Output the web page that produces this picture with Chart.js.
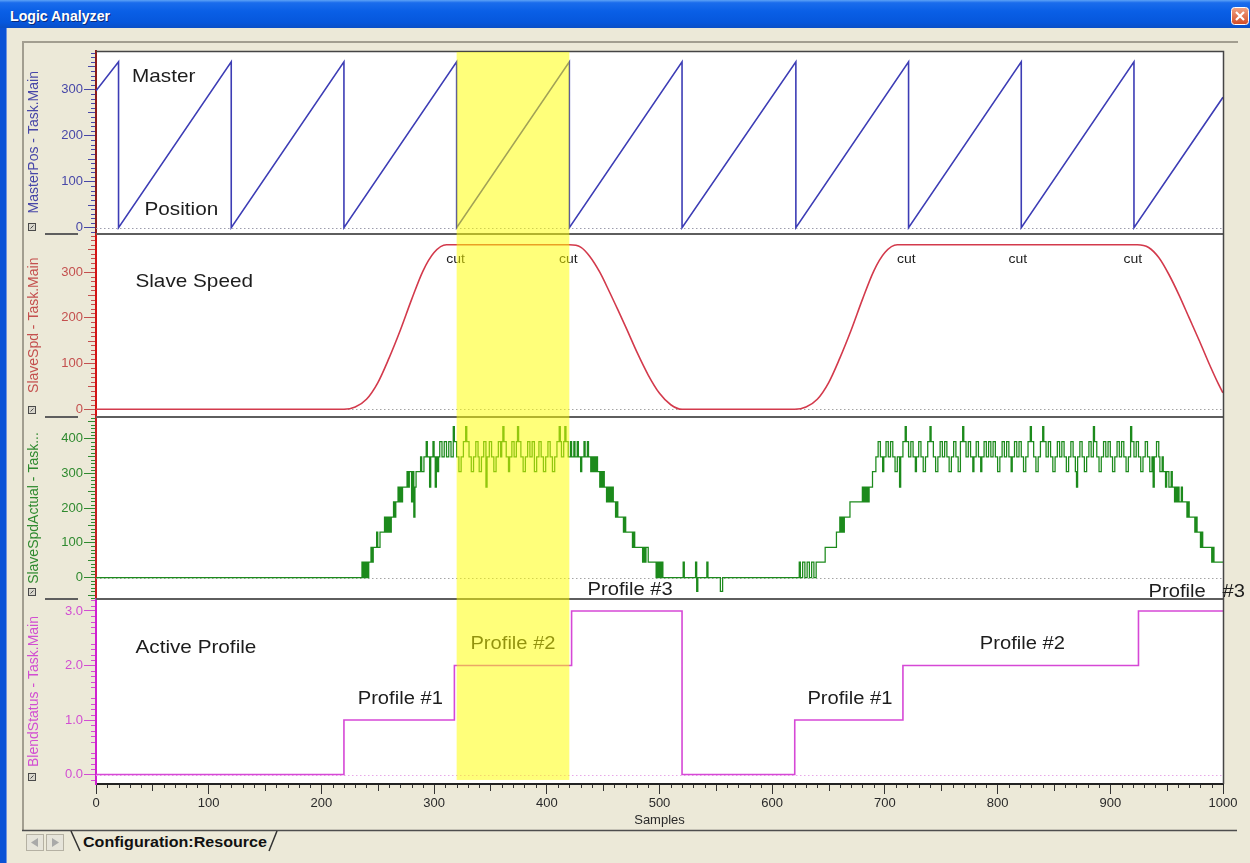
<!DOCTYPE html>
<html>
<head>
<meta charset="utf-8">
<title>Logic Analyzer</title>
<script src="https://cdn.jsdelivr.net/npm/chart.js@4.4.1/dist/chart.umd.min.js"></script>
<style>
  html, body { margin: 0; padding: 0; }
  body { width: 1250px; height: 863px; position: relative; overflow: hidden; background: #ece9d8;
         font-family: "Liberation Sans", Arial, sans-serif; }
  #titlebar { position: absolute; left: 0; top: 0; width: 1250px; height: 28px;
    background: linear-gradient(to bottom, #5da2f6 0%, #1a6cec 10%, #0a5fe6 40%, #0657dc 80%, #0a4fc6 100%); }
  #leftedge { position: absolute; left: 0; top: 28px; width: 6px; height: 835px; background: #0a52d6;
    border-right: 1px solid #6f94e0; }
  #frame { position: absolute; left: 22px; top: 41px; width: 1216px; height: 790px; box-sizing: border-box;
    border-top: 2px solid #a29e90; border-left: 2px solid #a29e90; }
  #plot { position: absolute; left: 0; top: 0; width: 1250px; height: 863px; }
</style>
</head>
<body>
<div id="titlebar">
  <svg width="1250" height="28" style="position:absolute;left:0;top:0">
    <defs>
      <linearGradient id="closeGrad" x1="0" y1="0" x2="0" y2="1">
        <stop offset="0" stop-color="#f2a585"/>
        <stop offset="1" stop-color="#d24a24"/>
      </linearGradient>
    </defs>
    <text x="10" y="21" fill="#0a2a7a" font-family="Liberation Sans, Arial, sans-serif" font-weight="bold" font-size="14"
          textLength="100" lengthAdjust="spacingAndGlyphs" transform="translate(1,1)">Logic Analyzer</text>
    <text x="10" y="21" fill="#ffffff" font-family="Liberation Sans, Arial, sans-serif" font-weight="bold" font-size="14"
          textLength="100" lengthAdjust="spacingAndGlyphs">Logic Analyzer</text>
    <rect x="1231.5" y="7.5" width="17" height="17" rx="3" fill="url(#closeGrad)" stroke="#ffffff"/>
    <path d="M1236 12 L1244 20 M1244 12 L1236 20" stroke="#ffffff" stroke-width="2.2"/>
  </svg>
</div>
<div id="leftedge"></div>
<div id="frame"></div>
<svg width="1250" height="37" style="position:absolute;left:0;top:826px">
  <line x1="22" y1="4.5" x2="1237" y2="4.5" stroke="#4d4d4d" stroke-width="1.5"/>
  <rect x="26.5" y="8.5" width="17" height="16" fill="#e6e4da" stroke="#b5b1a3"/>
  <path d="M38 12 L31 16.5 L38 21 Z" fill="#a9a9a9"/>
  <rect x="46.5" y="8.5" width="17" height="16" fill="#e6e4da" stroke="#b5b1a3"/>
  <path d="M52 12 L59 16.5 L52 21 Z" fill="#a9a9a9"/>
  <path d="M71 5 L80 25 M269 25 L277 5" stroke="#333333" stroke-width="1.5" fill="none"/>
  <text x="83" y="21" fill="#111111" font-family="Liberation Sans, Arial, sans-serif" font-weight="bold" font-size="14"
        textLength="184" lengthAdjust="spacingAndGlyphs">Configuration:Resource</text>
</svg>
<canvas id="plot" width="1250" height="863"></canvas>

<script>
// ---- sample axis -------------------------------------------------------
const sampleTicks = [0, 100, 200, 300, 400, 500, 600, 700, 800, 900, 1000];

// ---- MasterPos - Task.Main (sawtooth corners: sample, position) ----------
const masterX = [0, 20, 20, 120, 120, 220, 220, 320, 320, 420, 420, 520, 520, 621, 621, 721, 721, 821, 821, 921, 921, 1000];
const masterY = [297, 360, 0, 360, 0, 360, 0, 360, 0, 360, 0, 360, 0, 360, 0, 360, 0, 360, 0, 360, 0, 283];
const masterTicks = [0, 100, 200, 300];

// ---- SlaveSpd - Task.Main ------------------------------------------------
const slaveX = [0, 220, 230, 240, 250, 260, 270, 280, 290, 300, 311,
                420, 430, 438, 447, 455, 463, 471, 480, 490, 500, 510, 520,
                620, 630, 640, 650, 660, 670, 680, 690, 700, 711,
                924, 934, 943, 952, 961, 970, 979, 988, 996, 1000];
const slaveY = [0, 0, 5, 22, 58, 112, 173, 240, 302, 343, 360,
                360, 355, 335, 300, 260, 218, 175, 125, 75, 35, 10, 0,
                0, 5, 22, 58, 112, 173, 240, 302, 343, 360,
                360, 354, 332, 295, 250, 200, 150, 98, 55, 36];
const slaveTicks = [0, 100, 200, 300];

// ---- SlaveSpdActual - Task.Main (value changes: sample, speed) -----------
const actualSteps = [
  [0,0],
  [236,44],[237,0],[238,44],[239,0],[240,44],[241,0],[242,44],
  [244,87],[245,44],[246,87],[249,131],[250,87],[252,131],
  [256,174],[257,131],[258,174],[259,131],[260,174],[261,131],[262,174],
  [264,218],[265,174],[266,218],[268,261],[269,218],[270,261],[271,218],[272,261],
  [276,305],[277,261],[278,305],[280,218],[281,305],[282,174],[283,261],[284,305],
  [288,348],[289,305],[291,348],[293,392],[294,348],[296,261],[297,348],[299,392],[300,348],[301,261],[302,348],[303,305],[304,348],[305,392],
  [307,348],[309,392],[311,348],[313,392],[315,348],[317,435],[318,392],[320,348],[322,305],[324,348],[326,392],[328,435],[329,392],
  [331,348],[333,305],[335,348],[337,392],[339,348],[340,305],[342,348],[344,392],[346,261],[347,348],[349,392],[351,348],[353,305],
  [355,348],[357,392],[359,348],[360,392],[361,435],[362,392],[364,348],[366,305],[367,348],[369,392],[371,348],[373,392],[374,435],
  [375,392],[377,348],[379,305],[381,348],[383,392],[385,348],[387,392],[389,305],[391,348],[393,392],[395,348],[397,305],[399,348],
  [401,392],[403,348],[405,305],[407,348],[409,392],[411,435],[412,392],[413,348],[415,392],[416,435],[417,392],[419,348],[421,392],
  [422,348],[424,392],[425,348],[427,392],[428,348],[430,305],[431,348],[433,392],[434,348],[436,392],[437,348],[439,305],[440,348],
  [441,305],[442,348],[443,305],[444,348],[445,305],[447,261],[448,305],[449,261],[450,305],[451,261],[453,218],[454,261],[455,218],
  [456,261],[457,218],[458,261],[459,218],[461,174],[462,218],[463,174],[468,131],[469,174],[470,131],[476,87],[477,131],[478,87],
  [485,44],[486,87],[487,44],[488,87],[490,44],[497,0],[498,44],[499,0],[500,44],[501,0],[502,44],[503,0],
  [521,44],[522,0],[532,44],[533,-40],[534,0],[542,44],[543,0],[554,-40],[556,0],
  [624,44],[625,0],[627,44],[629,0],[631,44],[633,0],[635,44],[637,0],[639,44],
  [647,87],[657,131],[660,174],[661,131],[662,174],[663,131],[664,174],[669,218],[680,261],[681,218],[682,261],[683,218],[684,261],
  [685,218],[686,261],[689,305],[692,348],[694,392],
  [696,348],[698,305],[699,348],[701,392],[703,348],[705,392],[707,348],[709,305],[711,348],[713,261],[714,348],[716,392],[718,435],
  [719,392],[721,348],[723,392],[725,348],[727,305],[728,348],[730,392],[732,348],[734,305],[736,348],[738,392],[740,435],[741,392],
  [743,348],[745,305],[747,348],[749,392],[751,348],[753,392],[755,348],[757,305],[759,348],[761,392],[763,348],[765,305],[767,392],
  [769,435],[770,392],[772,348],[774,392],[776,348],[778,305],[779,348],[781,392],[783,348],[785,305],[786,348],[788,392],[790,348],
  [792,392],[794,348],[796,392],[798,348],[800,305],[802,348],[804,392],[806,348],[808,392],[810,348],[812,305],[813,348],[815,392],
  [817,348],[819,392],[821,348],[823,305],[825,348],[827,392],[829,435],[830,392],[832,348],[834,305],[836,348],[838,392],[840,435],
  [841,392],[843,348],[845,392],[847,348],[849,305],[851,348],[853,392],[855,348],[857,392],[859,348],[861,305],[863,348],[865,392],
  [867,348],[869,305],[870,261],[871,348],[873,392],[875,348],[877,305],[879,348],[881,392],[883,348],[885,435],[886,392],[888,348],
  [890,305],[892,348],[894,392],[896,348],[898,392],[900,348],[902,305],[904,348],[906,392],[908,348],[910,392],[912,348],[914,305],
  [916,348],[918,435],[919,392],[921,348],[923,392],[925,348],[927,305],[929,348],[931,392],[933,348],[935,305],[937,348],[938,261],
  [939,348],[941,392],[943,348],
  [944,305],[946,348],[947,305],[949,261],[950,305],[952,261],[954,305],[955,261],[957,218],[958,261],[959,218],[960,261],[961,218],
  [963,261],[964,218],[968,174],[969,218],[970,174],[975,131],[976,174],[977,131],[980,87],[981,131],[982,87],[990,44],[991,87],
  [992,44],[1000,44]
];
const actualTicks = [0, 100, 200, 300, 400];

// ---- BlendStatus - Task.Main (active profile changes) -------------------
const blendX = [0, 220, 318, 422, 520, 620, 716, 925, 1000];
const blendY = [0, 1, 2, 3, 0, 1, 2, 3, 3];
const blendTicks = [0, 0.5, 1, 1.5, 2, 2.5, 3];

// ---- text notes on the traces ------------------------------------------
const noteText   = ['Master', 'Position', 'Slave Speed', 'Active Profile'];
const noteSample = [32, 43, 35, 35];
const noteValue  = [317, 27, 268, 2.23];
const noteAxis   = ['yM', 'yM', 'yS', 'yB'];

const cutSamples = [319, 419, 719, 818, 920];
const cutValue = 320;

const profileLevel  = [1, 2, 3, 1, 2, 3];
const profileSample = [270, 370, 474, 669, 822, 934];
const profileValue  = [1.29, 2.30, 3.29, 1.29, 2.30, 3.25];
const profileGap    = [' ', ' ', ' ', ' ', ' ', '   '];
const profileAlign  = ['center', 'center', 'center', 'center', 'center', 'left'];

// selected window on the sample axis
const highlightFrom = 320;
const highlightTo = 420;

const FONT = '"Liberation Sans", Arial, sans-serif';
const STRETCH = 1.12;

const toPoints = (xs, ys) => xs.map((x, i) => ({ x, y: ys[i] }));

function drawNote(ctx, text, x, y, align, size) {
  ctx.save();
  ctx.translate(x, y);
  ctx.scale(STRETCH, 1);
  ctx.font = size + 'px ' + FONT;
  ctx.textAlign = align;
  ctx.textBaseline = 'alphabetic';
  ctx.fillStyle = '#1d1d1d';
  ctx.fillText(text, 0, 0);
  ctx.restore();
}

const axisColors = { yM: '#4747a8', yS: '#c4504e', yA: '#2f8a2f', yB: '#d24ed2' };
const minorSpec = { yM: [10, 50, 100], yS: [10, 50, 100], yA: [10, 50, 100], yB: [0.1, 0.5, 0.5] };

const panelDecor = {
  id: 'panelDecor',
  beforeDraw(chart) {
    const { ctx, chartArea: a } = chart;
    ctx.save();
    ctx.fillStyle = '#ffffff';
    ctx.fillRect(a.left, a.top, a.right - a.left, a.bottom - a.top);
    ctx.restore();
  },
  beforeDatasetsDraw(chart) {
    const { ctx, chartArea: a, scales } = chart;
    ctx.save();
    ctx.lineWidth = 1;
    ctx.setLineDash([1.5, 2.5]);
    const zeroColors = { yM: '#9c9cac', yS: '#a4a4a4', yA: '#a4a4a4', yB: '#e8a8e8' };
    for (const id of Object.keys(zeroColors)) {
      const y = Math.round(scales[id].getPixelForValue(0)) + 0.5;
      ctx.strokeStyle = zeroColors[id];
      ctx.beginPath(); ctx.moveTo(a.left, y); ctx.lineTo(a.right, y); ctx.stroke();
    }
    ctx.restore();
  },
  afterDatasetsDraw(chart) {
    const { ctx, chartArea: a, scales } = chart;
    const xs = scales.x;
    ctx.save();

    // panel separators (plot + stub in the axis column)
    ctx.strokeStyle = '#5e5e5e';
    ctx.lineWidth = 2;
    for (const id of ['yM', 'yS', 'yA']) {
      const y = Math.round(scales[id].bottom);
      ctx.beginPath(); ctx.moveTo(a.left, y); ctx.lineTo(a.right, y); ctx.stroke();
      ctx.beginPath(); ctx.moveTo(scales[id].left + 25, y); ctx.lineTo(scales[id].left + 58, y); ctx.stroke();
    }
    // plot frame (top / right)
    ctx.strokeStyle = '#454545';
    ctx.lineWidth = 1.5;
    ctx.beginPath();
    ctx.moveTo(a.left, a.top + 0.5); ctx.lineTo(a.right + 0.5, a.top + 0.5); ctx.lineTo(a.right + 0.5, a.bottom);
    ctx.stroke();

    // minor ticks on the value axes
    ctx.lineWidth = 1;
    for (const id of Object.keys(minorSpec)) {
      const s = scales[id];
      const [mi, md, mj] = minorSpec[id];
      ctx.strokeStyle = axisColors[id];
      const k0 = Math.ceil(s.min / mi - 1e-9), k1 = Math.floor(s.max / mi + 1e-9);
      for (let k = k0; k <= k1; k++) {
        const v = k * mi;
        if (Math.abs(v / mj - Math.round(v / mj)) < 1e-6) continue;
        const med = Math.abs(v / md - Math.round(v / md)) < 1e-6;
        const len = med ? 8 : 5;
        const y = Math.round(s.getPixelForValue(v)) + 0.5;
        ctx.beginPath(); ctx.moveTo(a.left - len, y); ctx.lineTo(a.left - 1, y); ctx.stroke();
      }
      // small channel icon at the lower left of each panel
      const iy = Math.round(s.bottom) - 11;
      ctx.fillStyle = '#d8d6cc';
      ctx.fillRect(s.left + 8, iy, 8, 8);
      ctx.strokeStyle = '#4a4a4a';
      ctx.strokeRect(s.left + 8.5, iy + 0.5, 7, 7);
      ctx.beginPath(); ctx.moveTo(s.left + 10.5, iy + 5.5); ctx.lineTo(s.left + 13.5, iy + 2.5); ctx.stroke();
    }
    // minor ticks on the sample axis
    ctx.strokeStyle = '#333333';
    for (let k = 1; k < 100; k++) {
      const v = k * 10;
      if (v % 100 === 0) continue;
      const len = v % 50 === 0 ? 7 : 4;
      const x = Math.round(xs.getPixelForValue(v)) + 0.5;
      ctx.beginPath(); ctx.moveTo(x, a.bottom + 1); ctx.lineTo(x, a.bottom + len); ctx.stroke();
    }

    // notes
    noteText.forEach((t, i) => {
      drawNote(ctx, t, xs.getPixelForValue(noteSample[i]), scales[noteAxis[i]].getPixelForValue(noteValue[i]), 'left', 18.5);
    });
    cutSamples.forEach(c => {
      drawNote(ctx, 'cut', xs.getPixelForValue(c), scales.yS.getPixelForValue(cutValue), 'center', 12.5);
    });
    profileLevel.forEach((lvl, i) => {
      drawNote(ctx, 'Profile' + profileGap[i] + '#' + lvl, xs.getPixelForValue(profileSample[i]),
               scales.yB.getPixelForValue(profileValue[i]), profileAlign[i], 18);
    });

    // highlighted sample window
    const x0 = xs.getPixelForValue(highlightFrom), x1 = xs.getPixelForValue(highlightTo);
    const y1 = scales.yB.getPixelForValue(-0.1);
    ctx.fillStyle = 'rgba(255, 255, 0, 0.52)';
    ctx.fillRect(x0, a.top + 1, x1 - x0, y1 - a.top - 1);
    ctx.restore();
  }
};

function panelAxis(id, title, borderColor, min, max, tickValues, weight, stackWeight, fmt) {
  const color = axisColors[id];
  return {
    type: 'linear', position: 'left', stack: 'panels', stackWeight, weight,
    min, max,
    afterBuildTicks: s => { s.ticks = tickValues.map(v => ({ value: v })); },
    afterFit: s => { s.width = 76; },
    ticks: { color, font: { family: FONT, size: 13 }, padding: 1, callback: fmt },
    grid: { drawOnChartArea: false, tickLength: 12, color, tickColor: color, tickWidth: 1 },
    border: { color: borderColor, width: 2 },
    title: { display: true, text: title, color, font: { family: FONT, size: 14 }, padding: { top: 6, bottom: 0 } }
  };
}

new Chart(document.getElementById('plot'), {
  type: 'line',
  data: {
    datasets: [
      { label: 'MasterPos - Task.Main', data: toPoints(masterX, masterY), yAxisID: 'yM',
        borderColor: '#3d3db5', borderWidth: 1.6, pointRadius: 0, tension: 0 },
      { label: 'SlaveSpd - Task.Main', data: toPoints(slaveX, slaveY), yAxisID: 'yS',
        borderColor: '#d33a4c', borderWidth: 1.6, pointRadius: 0, cubicInterpolationMode: 'monotone' },
      { label: 'SlaveSpdActual - Task.Main', data: actualSteps.map(([x, y]) => ({ x, y })), yAxisID: 'yA',
        borderColor: '#1c8a1c', borderWidth: 1.25, pointRadius: 0, stepped: true },
      { label: 'BlendStatus - Task.Main', data: toPoints(blendX, blendY), yAxisID: 'yB',
        borderColor: '#d648d6', borderWidth: 1.6, pointRadius: 0, stepped: true }
    ]
  },
  options: {
    responsive: false,
    animation: false,
    devicePixelRatio: 1,
    layout: { padding: { left: 20, top: 51, right: 27, bottom: 35 } },
    plugins: { legend: { display: false }, tooltip: { enabled: false } },
    scales: {
      x: {
        type: 'linear', position: 'bottom', min: 0, max: 1000,
        afterBuildTicks: s => { s.ticks = sampleTicks.map(v => ({ value: v })); },
        afterFit: s => { s.height = 44; },
        ticks: { color: '#2a2a2a', font: { family: FONT, size: 13 }, padding: 2, maxRotation: 0, autoSkip: false,
                 callback: v => String(v) },
        grid: { drawOnChartArea: false, tickLength: 10, color: '#333333', tickColor: '#333333' },
        border: { color: '#222222', width: 2 },
        title: { display: true, text: 'Samples', color: '#2a2a2a', font: { family: FONT, size: 13 }, padding: { top: 0, bottom: 0 } }
      },
      yM: panelAxis('yM', 'MasterPos - Task.Main', '#8c1c1c', -12.6, 383.3, masterTicks, 4, 182.5, v => String(v)),
      yS: panelAxis('yS', 'SlaveSpd - Task.Main', '#d41414', -16.8, 384.7, slaveTicks, 3, 183.5, v => String(v)),
      yA: panelAxis('yA', 'SlaveSpdActual - Task...', '#c62020', -62, 462.9, actualTicks, 2, 182, v => String(v)),
      yB: panelAxis('yB', 'BlendStatus - Task.Main', '#d020d0', -0.174, 3.22, blendTicks, 1, 185, v => v.toFixed(1))
    }
  },
  plugins: [panelDecor]
});
</script>
</body>
</html>
